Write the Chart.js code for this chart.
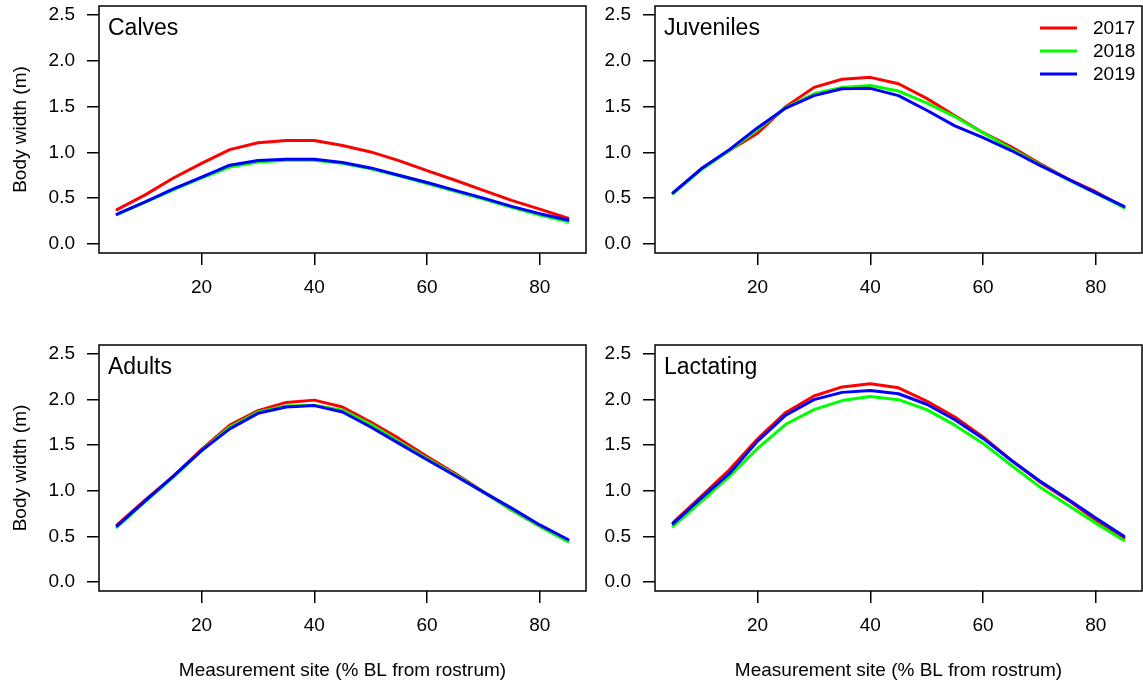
<!DOCTYPE html>
<html>
<head>
<meta charset="utf-8">
<script src="https://cdn.jsdelivr.net/npm/chart.js@4.4.1/dist/chart.umd.min.js"></script>
<style>
  html, body { margin: 0; padding: 0; background: #fff; }
  body { width: 1143px; height: 687px; position: relative; overflow: hidden; }
  canvas { position: absolute; }
</style>
</head>
<body>
<canvas id="calves"></canvas>
<canvas id="juveniles"></canvas>
<canvas id="adults"></canvas>
<canvas id="lactating"></canvas>
<script>
// measurement sites (% BL from rostrum)
const sites = [5, 10, 15, 20, 25, 30, 35, 40, 45, 50, 55, 60, 65, 70, 75, 80, 85];
const xTicks = [20, 40, 60, 80];
const yTicks = [0, 0.5, 1, 1.5, 2, 2.5];
const years = ['2017', '2018', '2019'];
const COLOURS = ['#ff0000', '#00ff00', '#0000ff'];

// body width (m)
const calves2017 = [0.375, 0.535, 0.72, 0.88, 1.03, 1.105, 1.13, 1.13, 1.075, 1.005, 0.91, 0.80, 0.695, 0.585, 0.475, 0.38, 0.28];
const calves2018 = [0.32, 0.455, 0.59, 0.72, 0.84, 0.895, 0.915, 0.915, 0.88, 0.82, 0.745, 0.66, 0.575, 0.49, 0.40, 0.315, 0.24];
const calves2019 = [0.325, 0.46, 0.60, 0.73, 0.86, 0.91, 0.925, 0.925, 0.89, 0.83, 0.75, 0.67, 0.585, 0.50, 0.41, 0.33, 0.26];

const juveniles2017 = [0.557, 0.82, 1.02, 1.21, 1.50, 1.71, 1.80, 1.82, 1.75, 1.59, 1.40, 1.215, 1.06, 0.88, 0.71, 0.57, 0.40];
const juveniles2018 = [0.55, 0.81, 1.02, 1.25, 1.49, 1.64, 1.71, 1.73, 1.67, 1.54, 1.39, 1.215, 1.04, 0.87, 0.705, 0.555, 0.395];
const juveniles2019 = [0.557, 0.82, 1.03, 1.27, 1.485, 1.62, 1.695, 1.70, 1.62, 1.46, 1.29, 1.16, 1.02, 0.86, 0.71, 0.557, 0.41];

const adults2017 = [0.627, 0.90, 1.16, 1.455, 1.72, 1.88, 1.97, 1.995, 1.92, 1.755, 1.575, 1.375, 1.19, 0.99, 0.79, 0.61, 0.455];
const adults2018 = [0.60, 0.88, 1.15, 1.44, 1.70, 1.865, 1.93, 1.94, 1.885, 1.73, 1.54, 1.355, 1.175, 0.985, 0.79, 0.61, 0.44];
const adults2019 = [0.615, 0.89, 1.16, 1.44, 1.68, 1.85, 1.92, 1.935, 1.865, 1.70, 1.52, 1.34, 1.165, 0.985, 0.81, 0.625, 0.465];

const lactating2017 = [0.65, 0.94, 1.23, 1.57, 1.86, 2.04, 2.14, 2.175, 2.13, 1.985, 1.81, 1.59, 1.335, 1.10, 0.90, 0.68, 0.48];
const lactating2018 = [0.61, 0.88, 1.16, 1.465, 1.73, 1.89, 1.99, 2.035, 2.00, 1.89, 1.72, 1.52, 1.28, 1.045, 0.845, 0.645, 0.455];
const lactating2019 = [0.64, 0.92, 1.19, 1.545, 1.83, 2.00, 2.08, 2.10, 2.065, 1.95, 1.78, 1.575, 1.335, 1.11, 0.91, 0.70, 0.50];

const FONT = "'Liberation Sans', Arial, sans-serif";

// R-style box round the plot region, panel label, optional legend
const panelPlugin = {
    id: 'panel',
    afterDraw(chart, args, opts) {
        const ctx = chart.ctx, a = chart.chartArea;
        ctx.save();
        ctx.strokeStyle = '#000';
        ctx.lineWidth = 1.5;
        ctx.strokeRect(a.left, a.top, a.right - a.left, a.bottom - a.top);

        ctx.fillStyle = '#000';
        ctx.font = '23px ' + FONT;
        ctx.textAlign = 'left';
        ctx.textBaseline = 'alphabetic';
        ctx.fillText(opts.label, a.left + 9, a.top + 29);

        if (opts.legend) {
            ctx.font = '19px ' + FONT;
            ctx.textBaseline = 'middle';
            chart.data.datasets.forEach((ds, i) => {
                const y = a.top + 22 + i * 23;
                ctx.strokeStyle = ds.borderColor;
                ctx.lineWidth = 3;
                ctx.beginPath();
                ctx.moveTo(a.right - 102, y);
                ctx.lineTo(a.right - 65, y);
                ctx.stroke();
                ctx.fillText(ds.label, a.right - 49, y + 1);
            });
        }
        ctx.restore();
    }
};

function makePanel(id, label, series, pos) {
    const el = document.getElementById(id);
    el.width = pos.w;
    el.height = pos.h;
    el.style.left = pos.x + 'px';
    el.style.top = pos.y + 'px';
    el.style.width = pos.w + 'px';
    el.style.height = pos.h + 'px';

    return new Chart(el, {
        type: 'line',
        data: {
            datasets: series.map((vals, i) => ({
                label: years[i],
                data: sites.map((s, j) => ({ x: s, y: vals[j] })),
                borderColor: COLOURS[i],
                backgroundColor: COLOURS[i],
                borderWidth: 3,
                pointRadius: 0,
                fill: false,
                tension: 0,
                borderJoinStyle: 'round',
                borderCapStyle: 'round',
                order: 2 - i
            }))
        },
        options: {
            responsive: false,
            animation: false,
            devicePixelRatio: 1,
            layout: { padding: { top: 6, right: 1, left: 0, bottom: 0 } },
            plugins: {
                legend: { display: false },
                tooltip: { enabled: false },
                panel: { label: label, legend: pos.legend }
            },
            scales: {
                x: {
                    type: 'linear',
                    min: 1.8,
                    max: 88.2,
                    afterBuildTicks: (s) => { s.ticks = xTicks.map(v => ({ value: v })); },
                    afterFit: (s) => { s.height = pos.xh; s.paddingLeft = 0; s.paddingRight = 0; },
                    grid: { drawOnChartArea: false, drawTicks: true, tickLength: 12, color: '#000', lineWidth: 1.5 },
                    border: { display: false },
                    ticks: { color: '#000', font: { family: FONT, size: 19 }, padding: 11, maxRotation: 0, autoSkip: false },
                    title: {
                        display: pos.xTitle,
                        text: 'Measurement site (% BL from rostrum)',
                        color: '#000',
                        font: { family: FONT, size: 19 },
                        padding: { top: 0, bottom: 5 }
                    }
                },
                y: {
                    min: -0.1,
                    max: 2.6,
                    afterBuildTicks: (s) => { s.ticks = yTicks.map(v => ({ value: v })); },
                    afterFit: (s) => { s.width = 99; s.paddingTop = 0; s.paddingBottom = 0; },
                    grid: { drawOnChartArea: false, drawTicks: true, tickLength: 12, color: '#000', lineWidth: 1.5 },
                    border: { display: false },
                    ticks: { color: '#000', font: { family: FONT, size: 19 }, padding: 12, callback: (v) => Number(v).toFixed(1) },
                    title: {
                        display: pos.yTitle,
                        text: 'Body width (m)',
                        color: '#000',
                        font: { family: FONT, size: 19 },
                        padding: { top: 9, bottom: 0 }
                    }
                }
            }
        },
        plugins: [panelPlugin]
    });
}

makePanel('calves', 'Calves', [calves2017, calves2018, calves2019],
    { x: 0, y: 0, w: 587, h: 340, xh: 87, xTitle: false, yTitle: true, legend: false });
makePanel('juveniles', 'Juveniles', [juveniles2017, juveniles2018, juveniles2019],
    { x: 556, y: 0, w: 587, h: 340, xh: 87, xTitle: false, yTitle: false, legend: true });
makePanel('adults', 'Adults', [adults2017, adults2018, adults2019],
    { x: 0, y: 339, w: 587, h: 348, xh: 96, xTitle: true, yTitle: true, legend: false });
makePanel('lactating', 'Lactating', [lactating2017, lactating2018, lactating2019],
    { x: 556, y: 339, w: 587, h: 348, xh: 96, xTitle: true, yTitle: false, legend: false });
</script>
</body>
</html>
